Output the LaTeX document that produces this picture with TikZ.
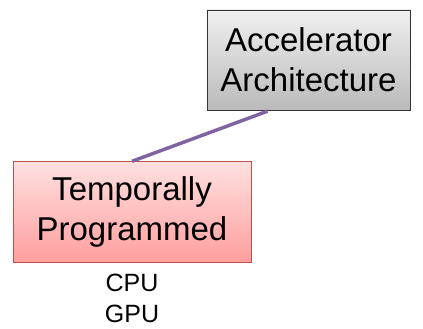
\documentclass[tikz,border=0pt]{standalone}
\usepackage{fontspec}
\setmainfont{Liberation Sans}
\usepackage{tikz}
\usetikzlibrary{positioning}

\definecolor{linkpurple}{HTML}{8064A2}
\definecolor{tempborder}{HTML}{C0504D}

\begin{document}
\begin{tikzpicture}[
    x=1pt, y=1pt,
    box/.style={
        rectangle,
        align=center,
        inner sep=0pt,
        font=\fontsize{33}{40}\selectfont
    },
    archbox/.style={
        box,
        draw=black!80,
        minimum width=203pt,
        minimum height=100pt,
        top color=black!6,
        bottom color=black!27
    },
    tempbox/.style={
        box,
        draw=tempborder,
        minimum width=238pt,
        minimum height=101pt,
        top color=red!12,
        bottom color=red!38
    },
    link/.style={draw=linkpurple, line width=3.5pt}
]
\useasboundingbox (0,0) rectangle (423,-329);

\node[archbox] (arch) at (308.5,-60) {Accelerator\\Architecture};
\node[tempbox] (temp) at (132,-212) {Temporally\\Programmed};
\node[below=11pt of temp, align=center, inner sep=0pt,
      font=\fontsize{25}{31}\selectfont] (examples) {CPU\\GPU};

\draw[link] (temp.north) -- ([xshift=-41pt, yshift=-1pt]arch.south);

\end{tikzpicture}
\end{document}
